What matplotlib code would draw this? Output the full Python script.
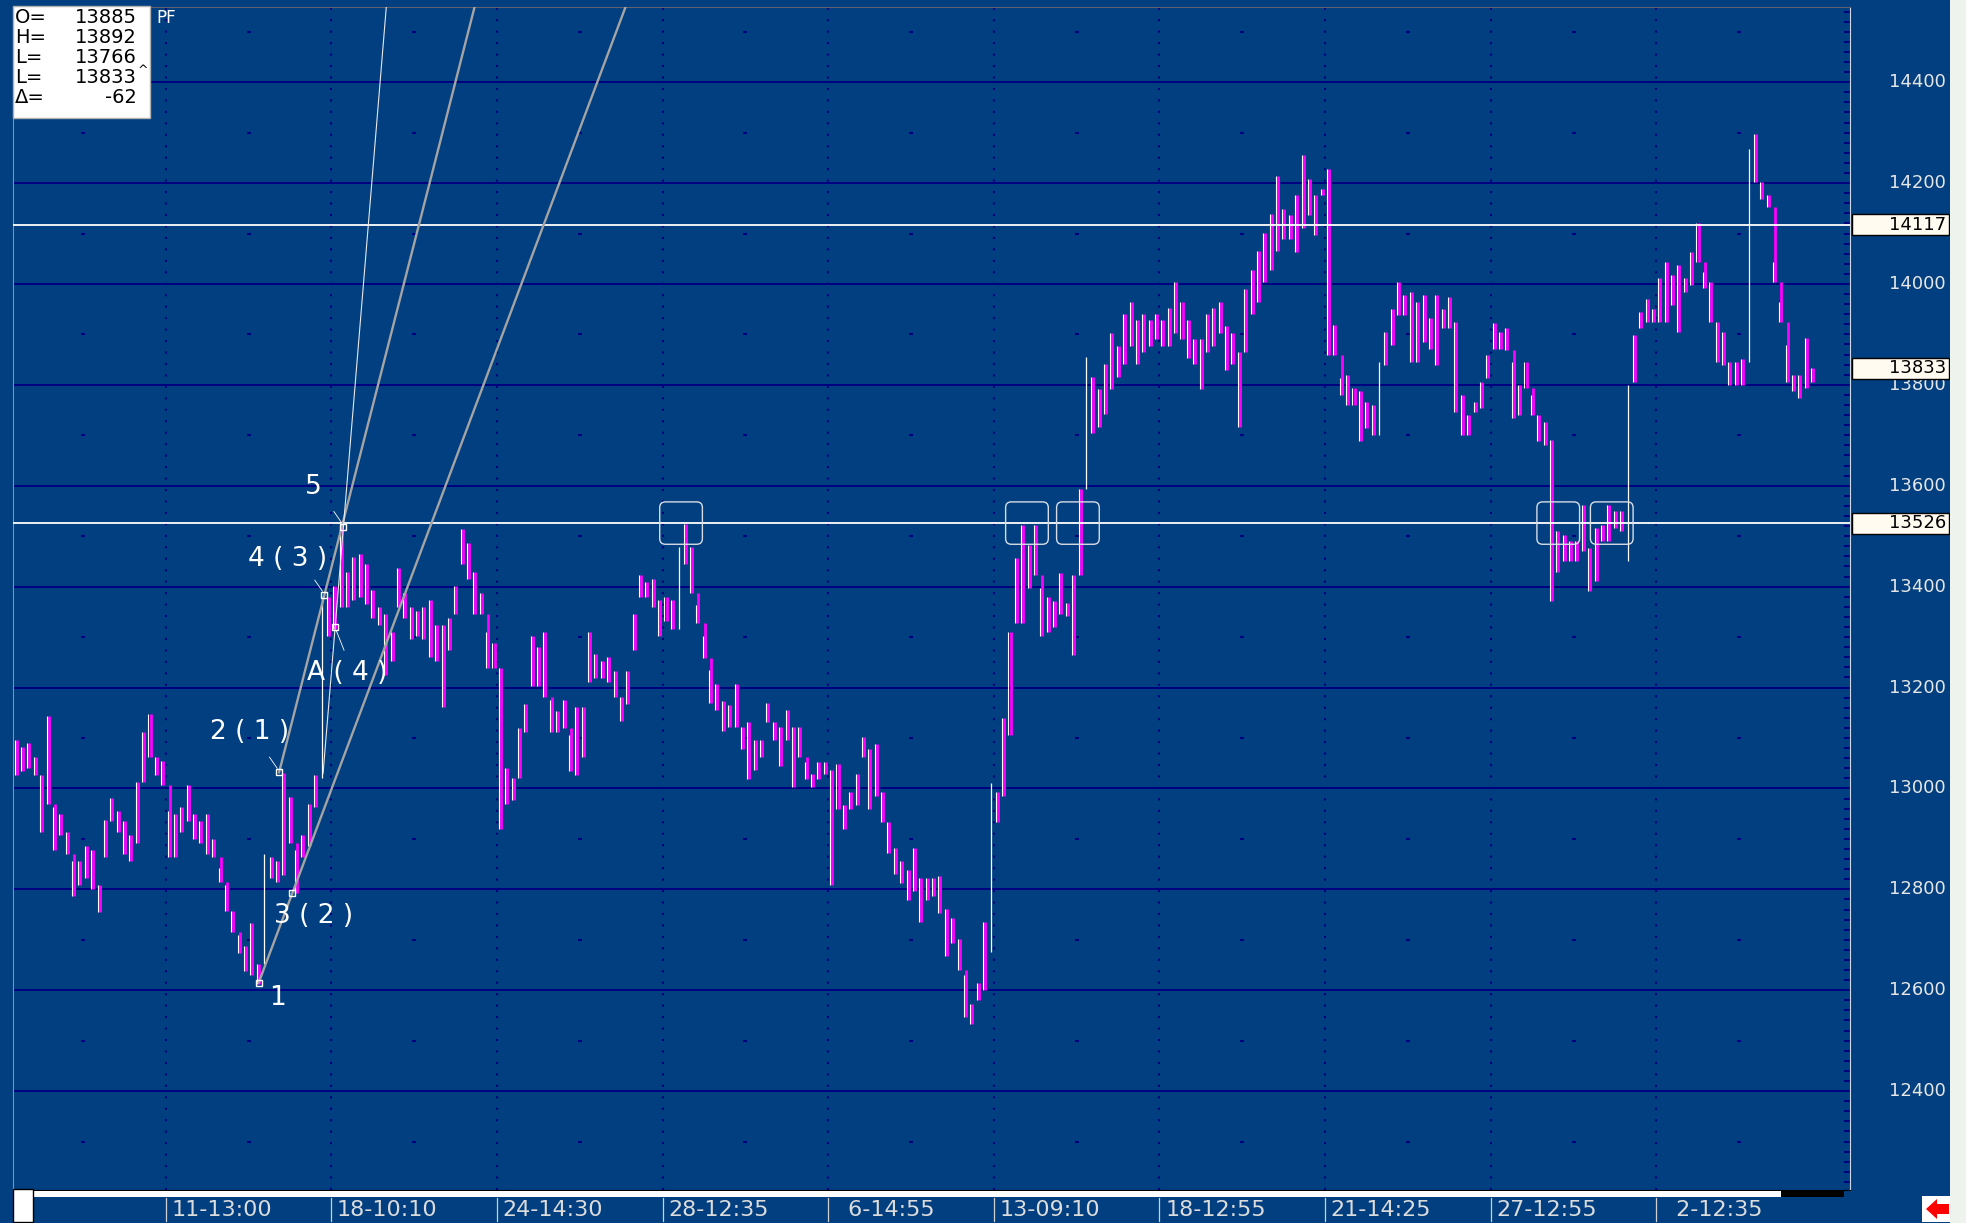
import matplotlib
matplotlib.use("Agg")
import matplotlib.pyplot as plt
import matplotlib.transforms as mtransforms
from matplotlib.patches import FancyBboxPatch, Rectangle, Polygon
import numpy as np

# bar highs / lows
highs = [
    13097, 13083, 13090, 13062, 13027, 13144, 12963, 12949, 12914, 12857,
    12857, 12885, 12878, 12808, 12938, 12981, 12956, 12935, 12907, 13013,
    13112, 13147, 13062, 13055, 12956, 12949, 12963, 13006, 12949, 12935,
    12949, 12900, 12843, 12808, 12758, 12709, 12687, 12733, 12652, 12871,
    12864, 12857, 13030, 12984, 12878, 12907, 12970, 13027, 13380, 13380,
    13401, 13520, 13430, 13458, 13465, 13444, 13394, 13359, 13345, 13310,
    13437, 13387, 13359, 13352, 13359, 13373, 13324, 13324, 13338, 13401,
    13515, 13486, 13430, 13387, 13310, 13288, 13239, 13041, 13020, 13119,
    13168, 13303, 13281, 13310, 13175, 13154, 13175, 13105, 13161, 13161,
    13310, 13267, 13253, 13260, 13232, 13182, 13232, 13345, 13423, 13409,
    13416, 13373, 13380, 13373, 13479, 13525, 13479, 13363, 13302, 13234,
    13208, 13174, 13165, 13208, 13122, 13131, 13096, 13096, 13169, 13131,
    13122, 13156, 13122, 13122, 13053, 13028, 13053, 13053, 13036, 13049,
    12968, 12993, 13028, 13101, 13079, 13088, 12993, 12933, 12882, 12856,
    12839, 12882, 12822, 12822, 12822, 12826, 12762, 12744, 12701, 12630,
    12573, 12615, 12736, 13010, 12993, 13139, 13311, 13457, 13523, 13483,
    13523, 13397, 13380, 13371, 13427, 13367, 13423, 13594, 13855, 13816,
    13791, 13841, 13903, 13878, 13940, 13965, 13928, 13940, 13928, 13940,
    13928, 13953, 14003, 13965, 13928, 13891, 13891, 13940, 13953, 13965,
    13916, 13903, 13866, 13990, 14027, 14065, 14102, 14139, 14214, 14149,
    14136, 14176, 14255, 14209, 14176, 14189, 14228, 13918, 13813, 13819,
    13793, 13787, 13767, 13760, 13846, 13905, 13951, 14004, 13978, 13984,
    13964, 13978, 13932, 13978, 13951, 13974, 13925, 13780, 13740, 13767,
    13806, 13859, 13922, 13905, 13912, 13846, 13800, 13846, 13780, 13740,
    13727, 13690, 13510, 13503, 13490, 13490, 13562, 13477, 13516, 13523,
    13562, 13549, 13549, 13800, 13899, 13945, 13971, 13951, 14011, 14044,
    14017, 14037, 14011, 14063, 14120, 14024, 14004, 13925, 13905, 13846,
    13846, 13852, 14268, 14298, 14202, 14176, 14044, 13965, 13879, 13819,
    13819, 13892, 13833,
]
lows = [
    13027, 13034, 13041, 13027, 12914, 12970, 12878, 12907, 12871, 12786,
    12808, 12822, 12800, 12755, 12864, 12935, 12914, 12871, 12857, 12892,
    13013, 13062, 13027, 13006, 12864, 12864, 12914, 12935, 12900, 12892,
    12871, 12864, 12815, 12758, 12716, 12673, 12638, 12631, 12612, 12723,
    12822, 12815, 12829, 12892, 12793, 12864, 12885, 12963, 13020, 13303,
    13317, 13359, 13359, 13373, 13380, 13366, 13338, 13324, 13225, 13253,
    13359, 13338, 13296, 13303, 13296, 13260, 13253, 13161, 13274, 13345,
    13444, 13415, 13345, 13345, 13239, 13239, 12920, 12970, 12977, 13020,
    13112, 13204, 13204, 13182, 13112, 13112, 13119, 13034, 13027, 13062,
    13211, 13218, 13218, 13211, 13182, 13133, 13168, 13274, 13380, 13380,
    13359, 13303, 13331, 13317, 13317, 13444, 13387, 13328, 13259, 13169,
    13156, 13113, 13122, 13122, 13079, 13019, 13036, 13062, 13131, 13096,
    13045, 13096, 13002, 13062, 13019, 13002, 13019, 13028, 12809, 12959,
    12920, 12959, 12968, 13062, 12959, 12985, 12933, 12873, 12830, 12813,
    12779, 12796, 12736, 12779, 12787, 12753, 12667, 12693, 12641, 12547,
    12534, 12581, 12600, 12676, 12933, 12985, 13105, 13328, 13328, 13397,
    13423, 13302, 13311, 13320, 13345, 13341, 13264, 13423, 13620, 13705,
    13717, 13742, 13791, 13816, 13841, 13878, 13841, 13866, 13878, 13891,
    13878, 13878, 13903, 13891, 13853, 13841, 13791, 13866, 13878, 13903,
    13829, 13841, 13717, 13866, 13940, 13965, 14003, 14027, 14065, 14090,
    14090, 14063, 14110, 14136, 14097, 14176, 13859, 13859, 13780, 13760,
    13760, 13688, 13714, 13701, 13701, 13839, 13879, 13938, 13938, 13846,
    13846, 13885, 13872, 13839, 13912, 13912, 13747, 13701, 13701, 13747,
    13754, 13813, 13872, 13872, 13869, 13734, 13740, 13793, 13740, 13688,
    13681, 13371, 13430, 13450, 13450, 13450, 13470, 13391, 13411, 13490,
    13490, 13516, 13510, 13450, 13806, 13912, 13925, 13925, 13925, 13925,
    13958, 13905, 13984, 13997, 14044, 13991, 13925, 13846, 13839, 13800,
    13800, 13800, 13846, 14202, 14169, 14153, 14004, 13925, 13806, 13787,
    13773, 13793, 13806,
]
# big up-gap bars drawn as plain white lines
white_bars = [39, 48, 104, 153, 168, 214, 253, 272]

price_levels = [14400, 14200, 14000, 13800, 13600, 13400, 13200, 13000, 12800, 12600, 12400]
marked_levels = [14117, 13526]
last_price = 13833

time_labels = ["11-13:00", "18-10:10", "24-14:30", "28-12:35", "\u20076-14:55",
               "13-09:10", "18-12:55", "21-14:25", "27-12:55", "\u20072-12:35"]

# elliott wave points
wave_names = ["1", "2 ( 1 )", "3 ( 2 )", "4 ( 3 )", "A ( 4 )", "5"]
wave_x = [38.1, 41.3, 43.4, 48.4, 50.1, 51.4]
wave_y = [12615, 13032, 12793, 13383, 13320, 13519]
label_x = [41.0, 36.6, 46.7, 42.7, 52.0, 46.7]
label_y = [12584, 13112, 12747, 13455, 13228, 13598]

# fan lines: from point, through point, start price
fan_from = [0, 1, 4]
fan_through = [2, 3, 5]
fan_start = [12615, 13032, 13030]

# retest boxes on the 13526 line
retest_x = [104.4, 158.7, 166.7, 242.1, 250.5]

info_names = ["O=", "H=", "L=", "L=", "\u0394="]
info_vals = ["13885", "13892", "13766", "13833", "-62"]

W, H = 1966, 1223
BLUE = "#013f80"
NAVY = "#000080"
MAGENTA = "#ff00ff"


def fx(px):
    return px / W


def fy(py):
    return 1 - py / H


fig = plt.figure(figsize=(W / 100, H / 100), dpi=100)
fig.patch.set_facecolor(BLUE)

ax = fig.add_axes([fx(13), fy(1190), fx(1850) - fx(13), fy(7) - fy(1190)])
ax.set_facecolor(BLUE)
ax.set_xlim(-0.47, 287.9)
ax.set_ylim(12204, 14549)

# grid
for lv in price_levels:
    ax.axhline(lv, color=NAVY, lw=1.4, zorder=1)
first_tick, step = 23.5, 26
ticks = [first_tick + step * k for k in range(len(time_labels))]
for t in ticks:
    ax.axvline(t, color=NAVY, lw=1.5, linestyle=(0, (1, 4.5)), zorder=1)
mids = [first_tick - step / 2 + step * k for k in range(len(time_labels) + 1)]
odd = [lv + 100 for lv in price_levels] + [12300]
mx, my = np.meshgrid(mids, odd)
ax.plot(mx.ravel(), my.ravel(), "_", color=NAVY, ms=3, mew=1.5, zorder=1)

ax.set_xticks([])
ax.set_yticks(price_levels)
ax.set_yticks(np.arange(12220, 14549, 20), minor=True)
ax.tick_params(axis="y", which="both", left=False, right=True, labelleft=False,
               labelright=False, direction="in", color=NAVY, width=1.4)
ax.tick_params(axis="y", which="major", length=9)
ax.tick_params(axis="y", which="minor", length=4)
ax.spines["right"].set_color("#d0d8e8")
ax.spines["left"].set_color("#8890a0")
ax.spines["top"].set_color("#606070")
ax.spines["bottom"].set_color("black")

# bars: magenta high-low with a white edge; gaps joined to the previous bar
idx = np.arange(len(highs))
hi = np.array(highs, dtype=float)
lo = np.array(lows, dtype=float)
prev_hi = np.r_[hi[0], hi[:-1]]
prev_lo = np.r_[lo[0], lo[:-1]]
m_top = np.maximum(hi, prev_lo)          # gap down drawn in magenta
w_bot = np.minimum(lo, prev_hi)          # gap up drawn in white
up = np.isin(idx, white_bars)
ax.vlines(idx[~up] + 0.12, lo[~up], m_top[~up], color=MAGENTA, lw=2.0, zorder=3)
ax.vlines(idx[~up] - 0.2, lo[~up], hi[~up], color="white", lw=0.8, zorder=3)
ax.vlines(idx[up], w_bot[up], hi[up], color="white", lw=0.9, zorder=3)

# level lines
for lv in marked_levels:
    ax.axhline(lv, color="white", lw=1.3, zorder=4)

# retest boxes
for cx in retest_x:
    ax.add_patch(FancyBboxPatch((cx - 3.35, marked_levels[1] - 42), 6.7, 84,
                                boxstyle="round,pad=0,rounding_size=0.9",
                                mutation_aspect=12.6, fill=False, ec="#d8dde5",
                                lw=1.0, zorder=5))

# fan lines
top = ax.get_ylim()[1]
fan_colors = ["#a4a4a4", "#a4a4a4", "#e8e8e8"]
fan_widths = [1.7, 1.7, 0.8]
for a, b, y0, c, w in zip(fan_from, fan_through, fan_start, fan_colors, fan_widths):
    slope = (wave_y[b] - wave_y[a]) / (wave_x[b] - wave_x[a])
    x0 = wave_x[a] + (y0 - wave_y[a]) / slope
    x1 = wave_x[a] + (top - wave_y[a]) / slope
    ax.plot([x0, x1], [y0, top], color=c, lw=w, zorder=4)

# wave points, leaders and labels
ax.plot(wave_x, wave_y, "s", ms=5, mfc="none", mec="white", mew=1, zorder=6)
for k in [1, 3, 5]:
    ax.plot([wave_x[k] - 1.5, wave_x[k] - 0.3], [wave_y[k] + 30, wave_y[k] + 8],
            color="white", lw=0.6, zorder=6)
ax.plot([wave_x[4] + 0.2, wave_x[4] + 1.4], [wave_y[4] - 8, wave_y[4] - 46],
        color="white", lw=0.6, zorder=6)
for name, x, y in zip(wave_names, label_x, label_y):
    ax.text(x, y, name, color="white", fontsize=19, ha="center", va="center", zorder=7)

# right axis labels
ry = mtransforms.blended_transform_factory(fig.transFigure, ax.transData)
for lv in price_levels:
    ax.text(fx(1946), lv, str(lv), transform=ry, ha="right", va="center",
            color="#e6e6e6", fontsize=13, clip_on=False)
for lv in marked_levels + [last_price]:
    ax.add_patch(Rectangle((fx(1852), lv - 20.8), fx(97), 41.6, transform=ry,
                           facecolor="#fffbf0", edgecolor="black", lw=1,
                           clip_on=False, zorder=8))
    ax.text(fx(1946), lv, str(lv), transform=ry, ha="right", va="center",
            color="black", fontsize=13, clip_on=False, zorder=9)

# time axis labels
tx = mtransforms.blended_transform_factory(ax.transData, fig.transFigure)
for t, lab in zip(ticks, time_labels):
    ax.plot([t, t], [fy(1198), fy(1221)], transform=tx, color="#d0d0d0",
            lw=0.9, clip_on=False)
    ax.text(t + 0.9, fy(1210), lab, transform=tx, ha="left", va="center",
            color="#dcdcdc", fontsize=16, clip_on=False)

# scrollbar and window chrome
fig.add_artist(Rectangle((fx(13), fy(1197)), fx(1781 - 13), 6 / H,
                         transform=fig.transFigure, facecolor="white", edgecolor="none"))
fig.add_artist(Rectangle((fx(1781), fy(1197)), fx(1844 - 1781), 6 / H,
                         transform=fig.transFigure, facecolor="black", edgecolor="none"))
fig.add_artist(Rectangle((fx(13), fy(1222)), fx(20), 33 / H,
                         transform=fig.transFigure, facecolor="white", edgecolor="black", lw=1))
fig.add_artist(Rectangle((fx(1950), 0), fx(16), 1,
                         transform=fig.transFigure, facecolor="#eef3ee", edgecolor="none"))
fig.add_artist(Rectangle((fx(1922), fy(1222)), fx(28), 26 / H,
                         transform=fig.transFigure, facecolor="white", edgecolor="none"))
arrow = [(1926, 1209), (1937, 1199), (1937, 1204), (1949, 1204),
         (1949, 1214), (1937, 1214), (1937, 1219)]
fig.add_artist(Polygon([(fx(px), fy(py)) for px, py in arrow], closed=True,
                       transform=fig.transFigure, facecolor="#ff0000", edgecolor="none"))

# info box
fig.add_artist(Rectangle((fx(13), fy(118)), fx(137), 112 / H,
                         transform=fig.transFigure, facecolor="white",
                         edgecolor="#b0b0b0", lw=1))
for k, (nm, val) in enumerate(zip(info_names, info_vals)):
    yy = fy(17.5 + 20 * k)
    fig.text(fx(15), yy, nm, ha="left", va="center", color="black", fontsize=14)
    fig.text(fx(137), yy, val, ha="right", va="center", color="black", fontsize=14)
fig.text(fx(138), fy(71), "^", ha="left", va="center", color="black", fontsize=9)
fig.text(fx(156), fy(18), "PF", ha="left", va="center", color="white", fontsize=12)

fig.savefig("out.png", dpi=100, facecolor=fig.get_facecolor())
